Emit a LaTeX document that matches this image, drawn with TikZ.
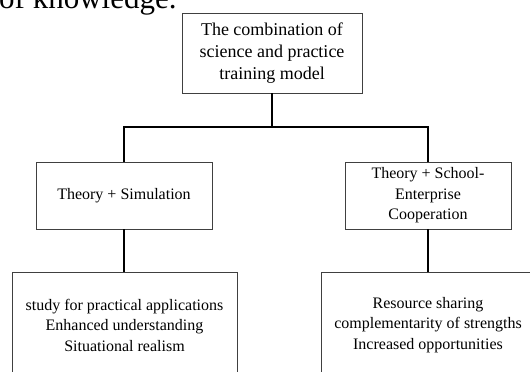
\documentclass[tikz,border=0pt]{standalone}
\usepackage{fontspec}
\setmainfont{Liberation Serif}
\begin{document}
\begin{tikzpicture}[x=1pt,y=1pt,
  box/.style={draw=black!75,line width=0.9pt,align=center,inner sep=0pt,
    font=\fontsize{16}{20.5}\selectfont},
  conn/.style={draw=black,line width=2.3pt}]
\useasboundingbox (0,0) rectangle (530,-372);
\clip (0,0) rectangle (530,-372);
\node[anchor=base west,inner sep=0pt,font=\fontsize{31}{36}\selectfont] (prev) at (-1,-9) {of knowledge.};
\node[box,minimum width=180,minimum height=80,font=\fontsize{18}{22}\selectfont] (top) at (272,-53)
  {The combination of\\science and practice\\training model};
\node[box,minimum width=176,minimum height=67] (lmid) at (124,-195.5) {Theory + Simulation};
\node[box,minimum width=166,minimum height=67] (rmid) at (428,-195.5) {Theory + School-\\Enterprise\\Cooperation};
\node[box,minimum width=225,minimum height=106] (lbot) at (124.5,-325)
  {study for practical applications\\Enhanced understanding\\Situational realism};
\node[box,minimum width=214,minimum height=106] (rbot) at (428,-325)
  {Resource sharing\\complementarity of strengths\\Increased opportunities};
\coordinate (hub) at (272,-127);
\draw[conn] (top.south) -- (hub);
\draw[conn] (lmid.north) |- (hub) -| (rmid.north);
\draw[conn] (lmid.south) -- (lmid.south |- lbot.north);
\draw[conn] (rmid.south) -- (rbot.north);
\end{tikzpicture}
\end{document}
